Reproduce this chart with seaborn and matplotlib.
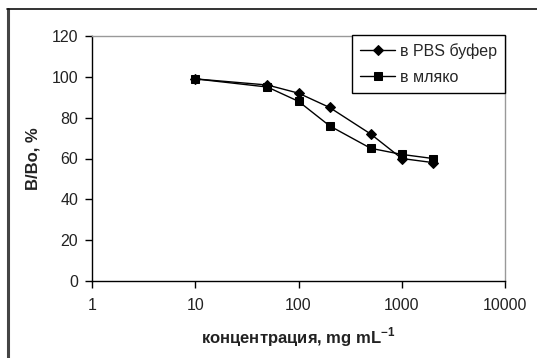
import matplotlib
matplotlib.use("Agg")
import matplotlib.pyplot as plt
import pandas as pd
import seaborn as sns
from matplotlib.lines import Line2D

# данни, отчетени от графиката
concentration = [10, 50, 100, 200, 500, 1000, 2000]
pbs_values = [99, 96, 92, 85, 72, 60, 58]
milk_values = [99, 95, 88, 76, 65, 62, 60]
series_names = ["в PBS буфер", "в мляко"]
x_ticks = [1, 10, 100, 1000, 10000]
y_ticks = [0, 20, 40, 60, 80, 100, 120]

df = pd.concat(
    [
        pd.DataFrame({"x": concentration, "y": pbs_values, "serie": series_names[0]}),
        pd.DataFrame({"x": concentration, "y": milk_values, "serie": series_names[1]}),
    ],
    ignore_index=True,
)

sns.set_theme(style="white")
plt.rcParams["font.family"] = ["Liberation Sans", "DejaVu Sans"]
plt.rcParams["mathtext.fontset"] = "custom"
plt.rcParams["mathtext.rm"] = "Liberation Sans"
plt.rcParams["mathtext.bf"] = "Liberation Sans:bold"

fig = plt.figure(figsize=(5.37, 3.58), dpi=100)
ax = fig.add_axes([92 / 537, 1 - 281 / 358, (505 - 92) / 537, (281 - 36) / 358])

sns.lineplot(
    data=df, x="x", y="y", hue="serie", style="serie",
    markers={series_names[0]: "D", series_names[1]: "s"}, dashes=False,
    palette={series_names[0]: "black", series_names[1]: "black"},
    markersize=6, linewidth=1, markeredgecolor="black", ax=ax,
)
for line in ax.lines:
    if line.get_marker() == "D":
        line.set_markersize(5)

ax.set_xscale("log")
ax.set_xlim(1, 10000)
ax.set_ylim(0, 120)
ax.set_xticks(x_ticks)
ax.set_xticklabels([str(t) for t in x_ticks])
ax.xaxis.set_minor_locator(matplotlib.ticker.NullLocator())
ax.set_yticks(y_ticks)

ax.tick_params(axis="both", direction="out", length=5, width=1, color="black",
               labelsize=11.5, labelcolor="#222222", bottom=True, left=True)
ax.tick_params(axis="x", pad=7)
ax.tick_params(axis="y", pad=5)

for side in ["left", "bottom"]:
    ax.spines[side].set_color("black")
    ax.spines[side].set_linewidth(1)
for side in ["top", "right"]:
    ax.spines[side].set_color("#999999")
    ax.spines[side].set_linewidth(1)

ax.set_xlabel(r"концентрация, mg mL$^{\mathbf{-1}}$", fontsize=12, fontweight="bold",
              labelpad=9, color="#222222")
ax.set_ylabel("B/Bo, %", fontsize=12, fontweight="bold", labelpad=8, color="#222222")

leg = ax.legend(loc="upper right", bbox_to_anchor=(1.0, 1.005), frameon=True,
                fancybox=False, fontsize=11.5, handlelength=2.2, borderpad=0.5,
                labelspacing=0.7, handletextpad=0.3, borderaxespad=0)
leg.get_frame().set_edgecolor("black")
leg.get_frame().set_linewidth(1)
leg.get_frame().set_alpha(1)

# рамка на фигурата (ляв и горен ръб)
fig.add_artist(Line2D([8 / 537, 8 / 537], [0, 1 - 9 / 358], color="#444444", lw=2.2))
fig.add_artist(Line2D([7 / 537, 1], [1 - 9 / 358, 1 - 9 / 358], color="#111111", lw=1.2))

fig.savefig("out.png", dpi=100)
